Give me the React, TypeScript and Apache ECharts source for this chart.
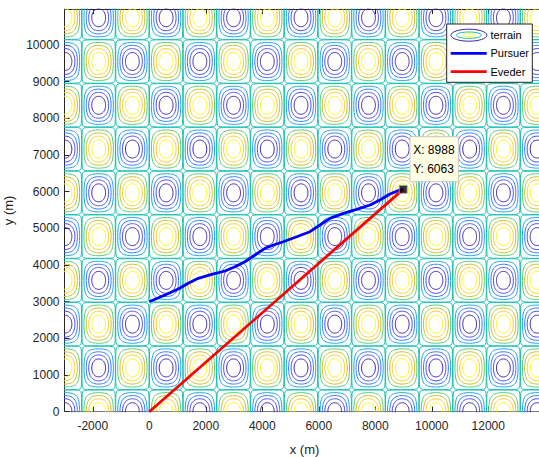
import React, { useEffect, useRef } from "react";
import * as echarts from "echarts";

// ---- axis extents and ticks ----
const X_MIN = -3000;
const X_MAX = 13990;
const Y_MIN = 0;
const Y_MAX = 10980;
const xTicks = [-2000, 0, 2000, 4000, 6000, 8000, 10000, 12000];
const yTicks = [0, 1000, 2000, 3000, 4000, 5000, 6000, 7000, 8000, 9000, 10000];

// ---- trajectories ----
const pursuerX = [0, 556, 1027, 1381, 1735, 2209, 2680, 3034, 3388, 3742, 4096, 4450, 4743, 5218, 5689, 6042, 6396, 6871, 7342, 7813, 8166, 8520, 8814, 8988];
const pursuerY = [3000, 3182, 3346, 3502, 3638, 3747, 3837, 3954, 4090, 4273, 4456, 4560, 4636, 4772, 4909, 5091, 5273, 5410, 5520, 5637, 5773, 5937, 6030, 6063];
const evederX = [0, 8988];
const evederY = [0, 6063];
const datatipPoint = [8988, 6063];

// ---- terrain: z = sin(x/L) * cos(y/L), contoured ----
const TERRAIN_L = 380; // metres per radian
const terrainLevels = [-0.8, -0.6, -0.4, -0.2, 0, 0.2, 0.4, 0.6, 0.8];
const terrainColors = ["#3e26a8", "#484cf0", "#327cfc", "#20a5e3", "#19bfb5", "#57cc7a", "#c5c22a", "#fec934", "#f9fb15"];
const ZERO_EPS = 0.012;

const FONT = '"Liberation Sans", Arial, Helvetica, sans-serif';
const INK = "#262626";

function terrainContour(level: number) {
  const a = TERRAIN_L;
  const P = Math.PI;
  const out: any[] = [];
  const m = level === 0 ? ZERO_EPS : Math.abs(level);
  const sgn = Math.sign(level);
  const a0 = Math.asin(m);
  const N = 30;
  const iMin = Math.floor(X_MIN / (P * a)) - 1;
  const iMax = Math.ceil(X_MAX / (P * a));
  const jMin = Math.floor((Y_MIN / a + P / 2) / P) - 1;
  const jMax = Math.ceil((Y_MAX / a + P / 2) / P);
  for (let i = iMin; i <= iMax; i++) {
    for (let j = jMin; j <= jMax; j++) {
      const cellSign = (((i + j) % 2) + 2) % 2 === 0 ? 1 : -1;
      if (sgn !== 0 && sgn !== cellSign) continue;
      const lower: number[][] = [];
      const upper: number[][] = [];
      for (let k = 0; k <= N; k++) {
        const t = (P * k) / N;
        const up = P / 2 - (P / 2 - a0) * Math.cos(t);
        const s = Math.min(1, m / Math.sin(up));
        const vp = Math.asin(s);
        const x = a * (i * P + up);
        lower.push([x, a * (j * P + vp - P / 2)]);
        upper.push([x, a * (j * P + P - vp - P / 2)]);
      }
      upper.reverse();
      for (const p of lower) out.push(p);
      for (const p of upper) out.push(p);
      out.push(["-", "-"]);
    }
  }
  return out;
}

const plain = (v: number) => String(v);

export default function App() {
  const ref = useRef<HTMLDivElement>(null);

  useEffect(() => {
    if (!ref.current) return;
    const chart = echarts.init(ref.current, null, { renderer: "svg" });

    const terrainSeries = terrainLevels.map((lv, idx) => ({
      type: "line",
      name: "terrain",
      data: terrainContour(lv),
      showSymbol: false,
      symbol: "none",
      connectNulls: false,
      silent: true,
      lineStyle: { color: terrainColors[idx], width: 1 },
      z: 1,
    }));

    const option: any = {
      animation: false,
      backgroundColor: "#ffffff",
      textStyle: { fontFamily: FONT },
      grid: { left: 64.5, top: 9.1, width: 480, height: 402.6, containLabel: false, outerBoundsMode: "none" },
      xAxis: [
        {
          type: "value",
          min: X_MIN,
          max: X_MAX,
          position: "bottom",
          name: "x (m)",
          nameLocation: "middle",
          nameGap: 31,
          nameTextStyle: { color: INK, fontSize: 13, fontFamily: FONT },
          axisLine: { show: true, onZero: false, lineStyle: { color: "#7a7a7a", width: 1 } },
          axisTick: { show: true, inside: true, length: 5, customValues: xTicks, lineStyle: { color: INK } },
          axisLabel: { customValues: xTicks, formatter: plain, color: INK, fontSize: 12, fontFamily: FONT, margin: 8 },
          splitLine: { show: false },
        },
        {
          type: "value",
          min: X_MIN,
          max: X_MAX,
          position: "top",
          axisLine: { show: true, onZero: false, lineStyle: { color: INK, width: 1 } },
          axisTick: { show: true, inside: true, length: 5, customValues: xTicks, lineStyle: { color: INK } },
          axisLabel: { show: false },
          splitLine: { show: false },
        },
      ],
      yAxis: [
        {
          type: "value",
          min: Y_MIN,
          max: Y_MAX,
          name: "y (m)",
          nameLocation: "middle",
          nameGap: 41,
          nameTextStyle: { color: INK, fontSize: 13, fontFamily: FONT },
          axisLine: { show: true, onZero: false, lineStyle: { color: INK, width: 1 } },
          axisTick: { show: true, inside: true, length: 5, customValues: yTicks, lineStyle: { color: INK } },
          axisLabel: { customValues: yTicks, formatter: plain, color: INK, fontSize: 12, fontFamily: FONT, margin: 5 },
          splitLine: { show: false },
        },
      ],
      series: [
        ...terrainSeries,
        {
          type: "line",
          name: "Pursuer",
          data: pursuerX.map((x, i) => [x, pursuerY[i]]),
          showSymbol: false,
          symbol: "none",
          lineStyle: { color: "#0000ff", width: 2.8 },
          z: 3,
        },
        {
          type: "line",
          name: "Eveder",
          data: evederX.map((x, i) => [x, evederY[i]]),
          showSymbol: false,
          symbol: "none",
          lineStyle: { color: "#ff0000", width: 2.8 },
          z: 3,
        },
        {
          type: "scatter",
          name: "datatip",
          data: [datatipPoint],
          symbol: "rect",
          symbolSize: 8,
          itemStyle: { color: "#000000", borderColor: "#b0b0b0", borderWidth: 1 },
          z: 5,
        },
      ],
    };
    chart.setOption(option);

    const [px, py] = chart.convertToPixel({ xAxisIndex: 0, yAxisIndex: 0 }, datatipPoint) as number[];

    const legendX = 446.7;
    const legendY = 24;
    const elements: any[] = [
      // legend
      { type: "rect", shape: { x: legendX, y: legendY, width: 85.6, height: 58.3 }, style: { fill: "#ffffff", stroke: INK, lineWidth: 1 }, z: 10 },
      { type: "ellipse", shape: { cx: 468.9, cy: 35.2, rx: 18, ry: 6 }, style: { fill: "none", stroke: terrainColors[0], lineWidth: 1 }, z: 11 },
      { type: "ellipse", shape: { cx: 468.9, cy: 35.2, rx: 12.5, ry: 3.2 }, style: { fill: "none", stroke: terrainColors[4], lineWidth: 1 }, z: 11 },
      { type: "ellipse", shape: { cx: 468.9, cy: 35.2, rx: 6, ry: 1.5 }, style: { fill: "none", stroke: terrainColors[8], lineWidth: 1 }, z: 11 },
      { type: "line", shape: { x1: 450.7, y1: 53.4, x2: 486.7, y2: 53.4 }, style: { stroke: "#0000ff", lineWidth: 2.8 }, z: 11 },
      { type: "line", shape: { x1: 450.7, y1: 71.7, x2: 486.7, y2: 71.7 }, style: { stroke: "#ff0000", lineWidth: 2.8 }, z: 11 },
      { type: "text", x: 490.5, y: 35.2, style: { text: "terrain", fill: "#000000", font: `11px ${FONT}`, verticalAlign: "middle" }, z: 11 },
      { type: "text", x: 490.5, y: 53.4, style: { text: "Pursuer", fill: "#000000", font: `11px ${FONT}`, verticalAlign: "middle" }, z: 11 },
      { type: "text", x: 490.5, y: 71.7, style: { text: "Eveder", fill: "#000000", font: `11px ${FONT}`, verticalAlign: "middle" }, z: 11 },
      // datatip
      { type: "rect", shape: { x: px + 6.8, y: py - 52.7, width: 48.3, height: 45 }, style: { fill: "#ffffe6", stroke: "#c8c8c8", lineWidth: 1 }, z: 10 },
      { type: "text", x: px + 10, y: py - 39.4, style: { text: `X: ${datatipPoint[0]}`, fill: "#000000", font: `12px ${FONT}`, verticalAlign: "middle" }, z: 11 },
      { type: "text", x: px + 10, y: py - 20.4, style: { text: `Y: ${datatipPoint[1]}`, fill: "#000000", font: `12px ${FONT}`, verticalAlign: "middle" }, z: 11 },
    ];
    chart.setOption({ graphic: { elements } });

    return () => chart.dispose();
  }, []);

  return (
    <div style={{ position: "fixed", left: 0, top: 0, width: 539, height: 457, overflow: "hidden", background: "#ffffff" }}>
      <div ref={ref} style={{ width: 546, height: 457 }} />
    </div>
  );
}
